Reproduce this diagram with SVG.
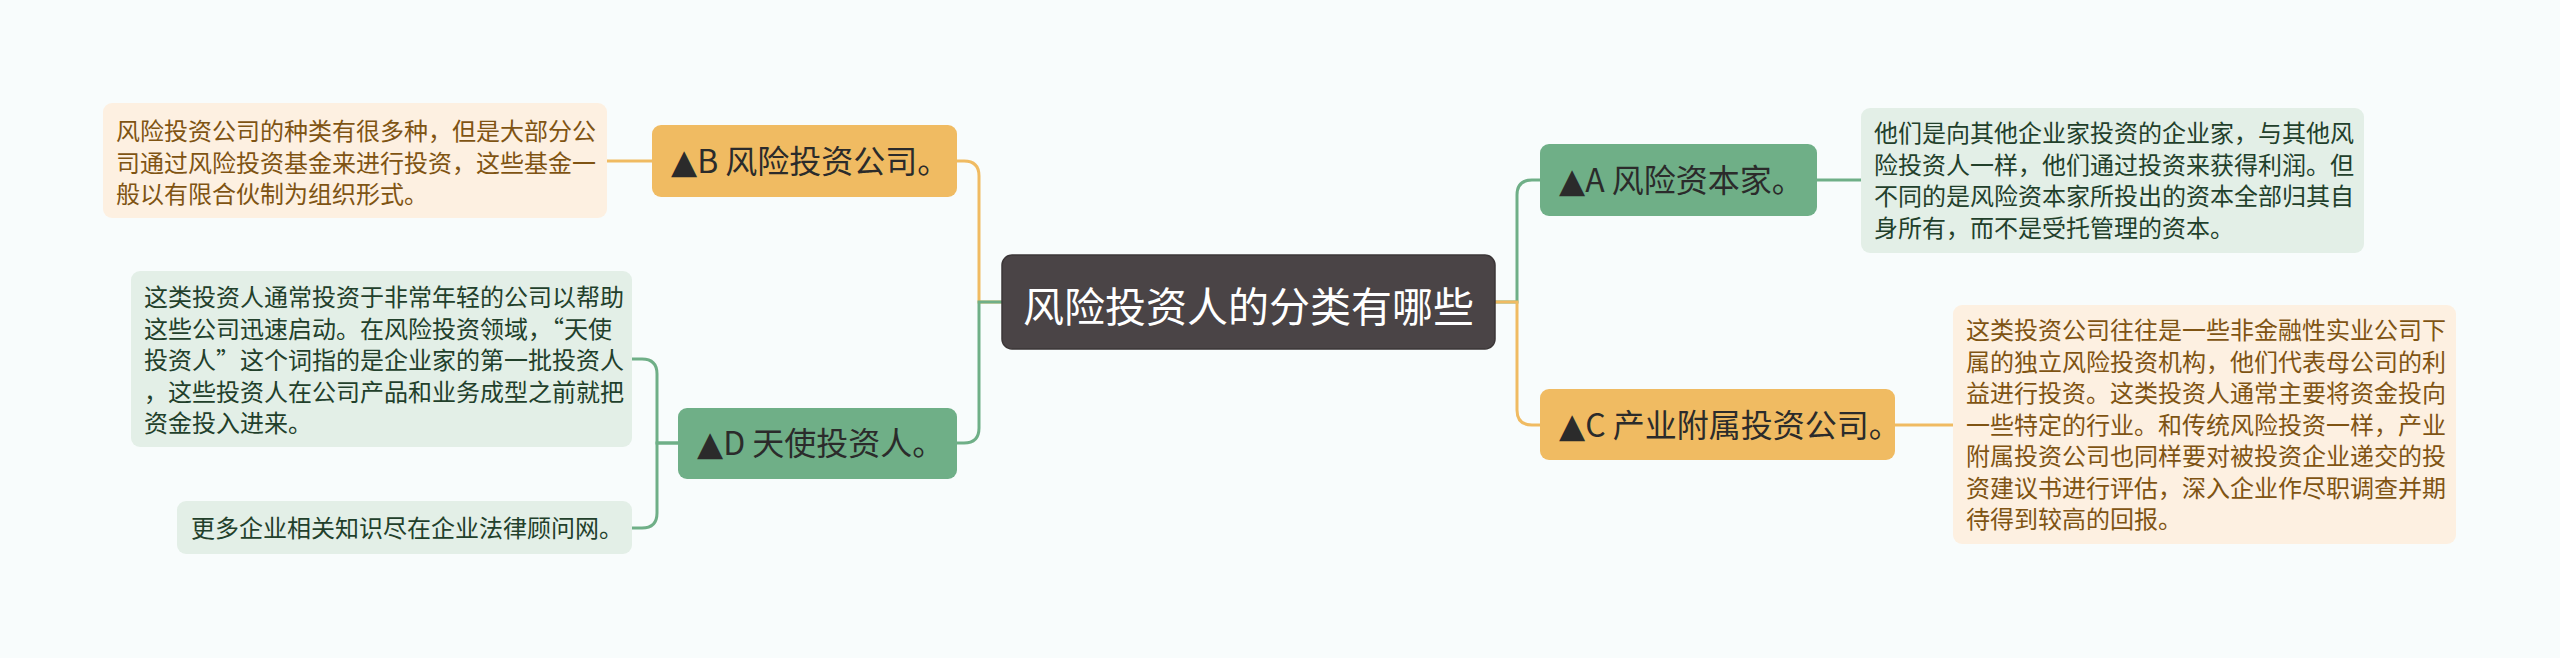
<svg xmlns="http://www.w3.org/2000/svg" width="2560" height="658" viewBox="0 0 2560 658">
<style>
text{font-family:"Noto Sans CJK SC","Noto Sans",sans-serif;}
.tri{font-family:"DejaVu Sans","Noto Sans CJK SC",sans-serif;font-size:34px;}
.bg{fill:#f8fcfc;}
.center-box{fill:#4a4446;stroke:#3b3637;stroke-width:1.5;}
.center-text{fill:#ffffff;font-size:41px;}
.orange{fill:#f0bb62;}
.green{fill:#6faf87;}
.branch-text{fill:#2b2b2b;font-size:32px;}
.desc-o{fill:#fdf0e1;}
.desc-g{fill:#e3efe7;}
.desc-o-text{fill:#7f5413;font-size:24px;}
.desc-g-text{fill:#22402b;font-size:24px;}
.c-o{fill:none;stroke:#f0bb62;stroke-width:3;}
.c-g{fill:none;stroke:#6faf87;stroke-width:3;}
</style>
<rect class="bg" x="0" y="0" width="2560" height="658"/>
<g id="connectors">
  <path class="c-o" d="M1002,302 L979,302 L979,176 Q979,161 964,161 L957,161"/>
  <path class="c-g" d="M1002,302 L979,302 L979,428 Q979,443 964,443 L957,443"/>
  <path class="c-g" d="M1495,302 L1517,302 L1517,195 Q1517,180 1532,180 L1540,180"/>
  <path class="c-o" d="M1495,302 L1517,302 L1517,410 Q1517,425 1532,425 L1540,425"/>
  <path class="c-o" d="M606,161 L652,161"/>
  <path class="c-g" d="M1817,180 L1861,180"/>
  <path class="c-o" d="M1895,425 L1953,425"/>
  <path class="c-g" d="M678,443 L657,443 L657,374 Q657,359 642,359 L632,359"/>
  <path class="c-g" d="M678,443 L657,443 L657,513 Q657,528 642,528 L632,528"/>
</g>
<g id="center">
  <rect class="center-box" x="1002" y="255" width="493" height="94" rx="10"/>
  <text class="center-text" x="1248.5" y="322" text-anchor="middle">风险投资人的分类有哪些</text>
</g>
<g id="node-b">
  <rect class="orange" x="652" y="125" width="305" height="72" rx="9"/>
  <text class="branch-text" x="671" y="172.5"><tspan class="tri">▲</tspan>B 风险投资公司。</text>
</g>
<g id="desc-b">
  <rect class="desc-o" x="103" y="103" width="504" height="115" rx="9"/>
  <text class="desc-o-text">
    <tspan x="116" y="140">风险投资公司的种类有很多种，但是大部分公</tspan>
    <tspan x="116" y="171.5">司通过风险投资基金来进行投资，这些基金一</tspan>
    <tspan x="116" y="203">般以有限合伙制为组织形式。</tspan>
  </text>
</g>
<g id="node-d">
  <rect class="green" x="678" y="408" width="279" height="71" rx="9"/>
  <text class="branch-text" x="697" y="455"><tspan class="tri">▲</tspan>D 天使投资人。</text>
</g>
<g id="desc-d1">
  <rect class="desc-g" x="131" y="271" width="501" height="176" rx="9"/>
  <text class="desc-g-text">
    <tspan x="144" y="306">这类投资人通常投资于非常年轻的公司以帮助</tspan>
    <tspan x="144" y="337.5">这些公司迅速启动。在风险投资领域，“天使</tspan>
    <tspan x="144" y="369">投资人”这个词指的是企业家的第一批投资人</tspan>
    <tspan x="144" y="400.5">，这些投资人在公司产品和业务成型之前就把</tspan>
    <tspan x="144" y="432">资金投入进来。</tspan>
  </text>
</g>
<g id="desc-d2">
  <rect class="desc-g" x="177" y="501" width="455" height="53" rx="9"/>
  <text class="desc-g-text" x="191" y="537">更多企业相关知识尽在企业法律顾问网。</text>
</g>
<g id="node-a">
  <rect class="green" x="1540" y="144" width="277" height="72" rx="9"/>
  <text class="branch-text" x="1559" y="191.5"><tspan class="tri">▲</tspan>A 风险资本家。</text>
</g>
<g id="desc-a">
  <rect class="desc-g" x="1861" y="108" width="503" height="145" rx="9"/>
  <text class="desc-g-text">
    <tspan x="1874" y="142">他们是向其他企业家投资的企业家，与其他风</tspan>
    <tspan x="1874" y="173.5">险投资人一样，他们通过投资来获得利润。但</tspan>
    <tspan x="1874" y="205">不同的是风险资本家所投出的资本全部归其自</tspan>
    <tspan x="1874" y="236.5">身所有，而不是受托管理的资本。</tspan>
  </text>
</g>
<g id="node-c">
  <rect class="orange" x="1540" y="389" width="355" height="71" rx="9"/>
  <text class="branch-text" x="1559" y="436.5"><tspan class="tri">▲</tspan>C 产业附属投资公司。</text>
</g>
<g id="desc-c">
  <rect class="desc-o" x="1953" y="305" width="503" height="239" rx="9"/>
  <text class="desc-o-text">
    <tspan x="1966" y="339">这类投资公司往往是一些非金融性实业公司下</tspan>
    <tspan x="1966" y="370.5">属的独立风险投资机构，他们代表母公司的利</tspan>
    <tspan x="1966" y="402">益进行投资。这类投资人通常主要将资金投向</tspan>
    <tspan x="1966" y="433.5">一些特定的行业。和传统风险投资一样，产业</tspan>
    <tspan x="1966" y="465">附属投资公司也同样要对被投资企业递交的投</tspan>
    <tspan x="1966" y="496.5">资建议书进行评估，深入企业作尽职调查并期</tspan>
    <tspan x="1966" y="528">待得到较高的回报。</tspan>
  </text>
</g>
</svg>
